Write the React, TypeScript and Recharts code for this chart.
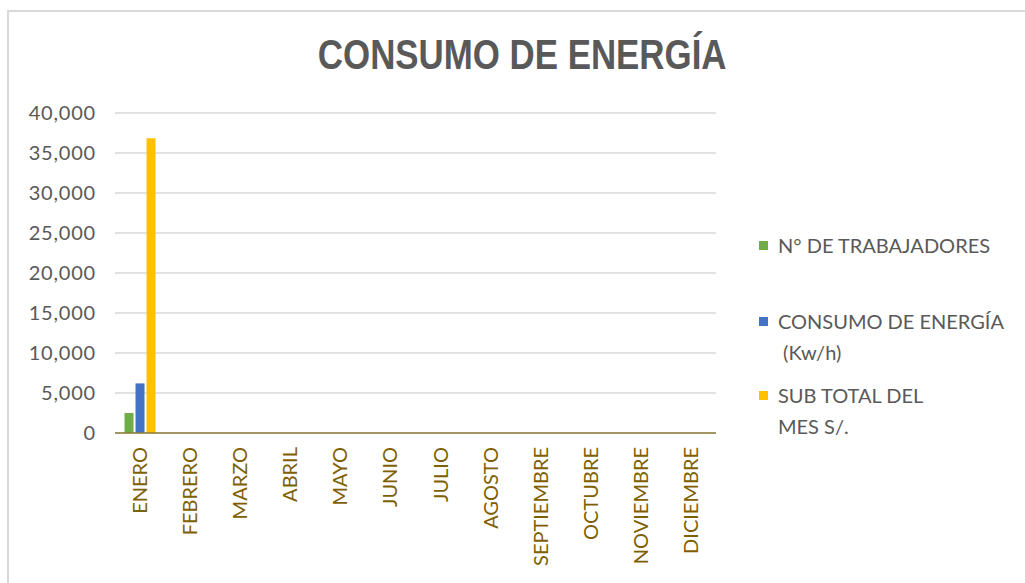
import { Bar, BarChart, CartesianGrid, Legend, XAxis, YAxis } from "recharts";

const MONTHS = [
  "ENERO", "FEBRERO", "MARZO", "ABRIL", "MAYO", "JUNIO",
  "JULIO", "AGOSTO", "SEPTIEMBRE", "OCTUBRE", "NOVIEMBRE", "DICIEMBRE",
];
const TRABAJADORES = [2500, 0, 0, 0, 0, 0, 0, 0, 0, 0, 0, 0];
const CONSUMO = [6200, 0, 0, 0, 0, 0, 0, 0, 0, 0, 0, 0];
const SUBTOTAL = [36850, 0, 0, 0, 0, 0, 0, 0, 0, 0, 0, 0];
const Y_TICKS = [0, 5000, 10000, 15000, 20000, 25000, 30000, 35000, 40000];

const SERIES = [
  { key: "trabajadores", lines: ["N° DE TRABAJADORES"], color: "#70AD47" },
  { key: "consumo", lines: ["CONSUMO DE ENERGÍA", " (Kw/h)"], color: "#4472C4" },
  { key: "subtotal", lines: ["SUB TOTAL DEL", "MES S/."], color: "#FFC000" },
] as const;

const data = MONTHS.map((m, i) => ({
  month: m,
  trabajadores: TRABAJADORES[i],
  consumo: CONSUMO[i],
  subtotal: SUBTOTAL[i],
}));

const FONT = "Lato, 'Noto Sans', sans-serif";

function MonthTick({ x, y, payload }: any) {
  return (
    <text
      x={x}
      y={y}
      dy="0.35em"
      transform={`rotate(-90 ${x} ${y})`}
      textAnchor="end"
      fill="#7F6000"
      fontSize={20}
      fontFamily={FONT}
    >
      {payload.value}
    </text>
  );
}

// leyenda a la derecha, con textos partidos en dos líneas como en Excel
function SideLegend() {
  const tops = [230, 306, 380];
  return (
    <div style={{ position: "relative", fontFamily: FONT, fontSize: 20, color: "#595959" }}>
      {SERIES.map((s, i) => (
        <div key={s.key} style={{ position: "absolute", left: 0, top: tops[i] }}>
          <span
            style={{
              position: "absolute",
              left: 0,
              top: 11,
              width: 9,
              height: 9,
              background: s.color,
            }}
          />
          {s.lines.map((l, j) => (
            <div
              key={j}
              style={{ position: "absolute", left: 19, top: j * 31, whiteSpace: "pre", lineHeight: "31px" }}
            >
              {l}
            </div>
          ))}
        </div>
      ))}
    </div>
  );
}

export default function App() {
  return (
    <div style={{ position: "absolute", left: 0, top: 0, width: 1025, height: 583, background: "#fff" }}>
      <div
        style={{
          position: "absolute",
          left: 7,
          top: 10,
          right: 0,
          bottom: 0,
          borderLeft: "2px solid #D9D9D9",
          borderTop: "2px solid #D9D9D9",
        }}
      />
      <div
        style={{
          position: "absolute",
          left: 0,
          width: 1045,
          top: 31,
          textAlign: "center",
          fontFamily: "'Liberation Sans', Arial, sans-serif",
          fontWeight: "bold",
          fontSize: 42,
          color: "#595959",
        }}
      >
        <span style={{ display: "inline-block", transform: "scaleX(0.83)" }}>CONSUMO DE ENERGÍA</span>
      </div>
      <BarChart
        width={1025}
        height={583}
        data={data}
        margin={{ top: 113, right: 309, left: 0, bottom: 0 }}
        barCategoryGap="19%"
        barGap={2}
        style={{ position: "absolute", left: 0, top: 0 }}
      >
        <CartesianGrid vertical={false} stroke="#D9D9D9" strokeWidth={1.3} />
        <XAxis
          dataKey="month"
          height={150}
          interval={0}
          tickLine={false}
          tickMargin={8}
          axisLine={{ stroke: "#8E7C35", strokeWidth: 1.5 }}
          tick={<MonthTick />}
        />
        <YAxis
          width={115}
          domain={[0, 40000]}
          ticks={Y_TICKS}
          interval={0}
          axisLine={false}
          tickLine={false}
          tickMargin={13}
          tickFormatter={(v: number) => v.toLocaleString("en-US")}
          tick={{ fill: "#595959", fontSize: 20, fontFamily: FONT, letterSpacing: 0.8 }}
        />
        <Legend
          content={<SideLegend />}
          wrapperStyle={{ position: "absolute", left: 759, top: 0, width: 260, height: 0 }}
        />
        {SERIES.map((s) => (
          <Bar key={s.key} dataKey={s.key} fill={s.color} isAnimationActive={false} />
        ))}
      </BarChart>
    </div>
  );
}
